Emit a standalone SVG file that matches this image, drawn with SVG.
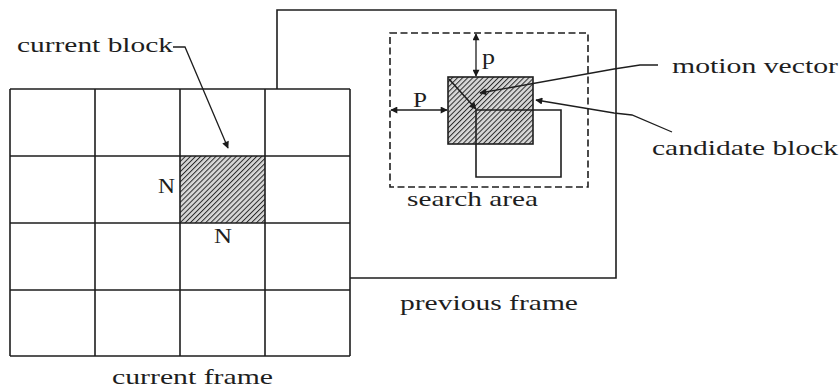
<svg xmlns="http://www.w3.org/2000/svg" width="840" height="390" viewBox="0 0 840 390">
<defs>
<pattern id="hatch" width="3.6" height="3.6" patternUnits="userSpaceOnUse" patternTransform="rotate(45)">
<rect width="3.6" height="3.6" fill="#d8d8d8"/>
<line x1="0.5" y1="0" x2="0.5" y2="3.6" stroke="#2a2a2a" stroke-width="1"/>
</pattern>
<marker id="ah" viewBox="0 0 10 10" refX="9" refY="5" markerWidth="9" markerHeight="7" markerUnits="userSpaceOnUse" orient="auto-start-reverse">
<path d="M0,0 L10,5 L0,10 z" fill="#1a1a1a"/>
</marker>
</defs>
<style>
.ln{fill:none;stroke:#1e1e1e;stroke-width:1.6}
.thin{fill:none;stroke:#1e1e1e;stroke-width:1.3}
.dash{fill:none;stroke:#1e1e1e;stroke-width:1.6;stroke-dasharray:7 3.5}
.t{font-family:"Liberation Serif","Times New Roman",serif;font-size:21px;fill:#1e1e1e}
</style>
<rect width="840" height="390" fill="#ffffff"/>

<g id="previous-frame">
<path class="ln" d="M277,89 L277,10 L616,10 L616,278 L350,278"/>
<text class="t" x="400" y="310" textLength="178" lengthAdjust="spacingAndGlyphs">previous frame</text>
</g>

<g id="current-frame">
<rect x="10" y="89" width="340" height="267" fill="#ffffff" stroke="none"/>
<rect x="180" y="156" width="85" height="67" fill="url(#hatch)"/>
<path class="ln" d="M10,89 H350 M10,156 H350 M10,223 H350 M10,290 H350 M10,356 H350 M10,89 V356 M95,89 V356 M180,89 V356 M265,89 V356 M350,89 V356"/>
<text class="t" x="112" y="384" textLength="161" lengthAdjust="spacingAndGlyphs">current frame</text>
</g>

<g id="current-block">
<text class="t" x="17" y="52" textLength="156" lengthAdjust="spacingAndGlyphs">current block</text>
<text class="t" x="158" y="193" textLength="17" lengthAdjust="spacingAndGlyphs">N</text>
<text class="t" x="214" y="243" textLength="18" lengthAdjust="spacingAndGlyphs">N</text>
</g>

<g id="search-area">
<rect class="dash" x="390" y="33" width="198" height="154"/>
<text class="t" x="407" y="206" textLength="131" lengthAdjust="spacingAndGlyphs">search area</text>
</g>

<g id="candidate-block">
<rect x="448" y="77" width="85" height="67" fill="url(#hatch)" stroke="#1e1e1e" stroke-width="1.6"/>
<text class="t" x="652" y="155" textLength="186" lengthAdjust="spacingAndGlyphs">candidate block</text>
</g>

<g id="block-position">
<path class="ln" d="M476,110 H561 V177 H476 Z"/>
</g>

<g id="motion-vector">
<text class="t" x="672" y="73" textLength="166" lengthAdjust="spacingAndGlyphs">motion vector</text>
</g>

<g id="p-labels">
<text class="t" x="482" y="64" textLength="13" lengthAdjust="spacingAndGlyphs">p</text>
<text class="t" x="413" y="107" textLength="14" lengthAdjust="spacingAndGlyphs">P</text>
</g>

<g id="connectors">
<path class="thin" d="M173,47 L185,47 L228,148" marker-end="url(#ah)"/>
<path class="thin" d="M476,34 V76" marker-start="url(#ah)" marker-end="url(#ah)"/>
<path class="thin" d="M391,110 H447" marker-start="url(#ah)" marker-end="url(#ah)"/>
<path class="ln" d="M449,79 L476,109" marker-end="url(#ah)"/>
<path class="thin" d="M658,65 L640,65 L614,69 L480,93" marker-end="url(#ah)"/>
<path class="thin" d="M672,132 L632,115 L614,113 L536,100" marker-end="url(#ah)"/>
</g>
</svg>
